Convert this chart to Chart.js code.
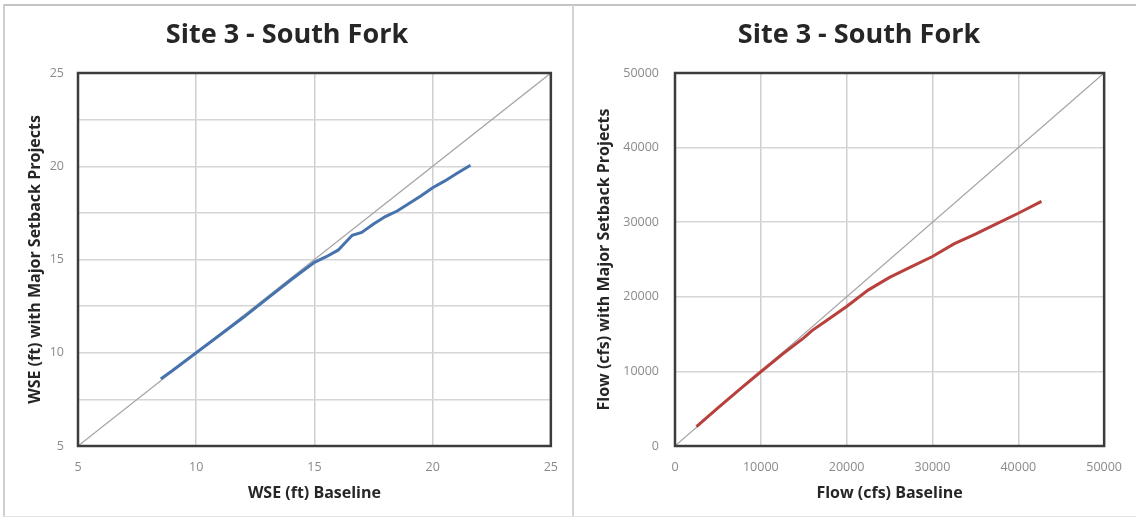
<!DOCTYPE html>
<html>
<head>
<meta charset="utf-8">
<script src="https://cdn.jsdelivr.net/npm/chart.js@4/dist/chart.umd.min.js"></script>
<style>
  html, body { margin: 0; padding: 0; background: #ffffff; }
  #stage { position: relative; width: 1136px; height: 519px; overflow: hidden; background: #fff; }
  .frame { position: absolute; left: 3px; top: 4px; width: 1140px; height: 510px;
           border-top: 2px solid #c4c4c4; border-left: 2px solid #d0d0d0; border-bottom: 1px solid #e4e4e4; }
  .sep { position: absolute; left: 572px; top: 5px; width: 2px; height: 511px; background: #d4d4d4; }
  canvas { position: absolute; top: 0; }
</style>
</head>
<body>
<div id="stage">
  <div class="frame"></div>
  <div class="sep"></div>
  <canvas id="left" width="572" height="519" style="left:0px"></canvas>
  <canvas id="right" width="562" height="519" style="left:574px"></canvas>
</div>
<script>
// ---- Data ----
const chartTitle = "Site 3 - South Fork";

// Left panel: water surface elevation (ft)
const wseBaseline = [8.5, 9.0, 10.0, 11.0, 12.0, 13.0, 14.0, 15.0, 15.5, 16.0, 16.3, 16.6, 17.0, 17.5, 18.0, 18.5, 19.0, 19.5, 20.0, 20.5, 21.0, 21.6];
const wseSetback  = [8.6, 9.05, 10.0, 10.95, 11.9, 12.9, 13.9, 14.85, 15.15, 15.5, 15.9, 16.3, 16.45, 16.9, 17.3, 17.6, 18.0, 18.4, 18.85, 19.2, 19.6, 20.05];
const wseDiagonal = [5, 25];
const wseXTicks = [5, 10, 15, 20, 25];
const wseYGrid  = [5, 7.5, 10, 12.5, 15, 17.5, 20, 22.5, 25];
const wseYLabels = [5, 10, 15, 20, 25];

// Right panel: flow (cfs)
const flowBaseline = [2500, 5000, 7500, 10000, 12500, 15000, 16000, 17500, 20000, 22500, 25000, 27500, 30000, 32500, 35000, 37500, 40000, 42700];
const flowSetback  = [2600, 5100, 7550, 9950, 12300, 14500, 15500, 16700, 18700, 20900, 22600, 24000, 25400, 27100, 28400, 29800, 31200, 32800];
const flowDiagonal = [0, 50000];
const flowTicks = [0, 10000, 20000, 30000, 40000, 50000];

const leftLabels = { x: "WSE (ft) Baseline", y: "WSE (ft) with Major Setback Projects" };
const rightLabels = { x: "Flow (cfs) Baseline", y: "Flow (cfs) with Major Setback Projects" };

// ---- Styling ----
const FONT = "'Open Sans', 'Liberation Sans', sans-serif";
const pairUp = (xs, ys) => xs.map((x, i) => ({ x: x, y: ys[i] }));

const plotFrame = {
  id: 'plotFrame',
  afterDatasetsDraw(chart) {
    const a = chart.chartArea, ctx = chart.ctx;
    ctx.save();
    ctx.strokeStyle = '#3c3c3c';
    ctx.lineWidth = 2.5;
    ctx.strokeRect(a.left, a.top, a.right - a.left, a.bottom - a.top);
    ctx.restore();
  }
};

function makeChart(id, cfg) {
  const fixTicks = (list) => (axis) => { axis.ticks = list.map(v => ({ value: v })); };
  new Chart(document.getElementById(id), {
    type: 'scatter',
    data: {
      datasets: [
        { data: pairUp(cfg.diag, cfg.diag), showLine: true, borderColor: '#a3a3a3', borderWidth: 1.2,
          pointRadius: 0, order: 2 },
        { data: pairUp(cfg.xs, cfg.ys), showLine: true, borderColor: cfg.color, borderWidth: 3,
          pointRadius: 0, tension: 0, order: 1 }
      ]
    },
    options: {
      responsive: false,
      animation: false,
      events: [],
      layout: { padding: { left: cfg.padLeft, right: cfg.padRight, top: 0, bottom: 0 } },
      plugins: {
        legend: { display: false },
        tooltip: { enabled: false },
        title: {
          display: true, text: chartTitle, color: '#262626',
          font: { family: FONT, size: 27, weight: 'bold', lineHeight: 1.2 },
          padding: { top: 19, bottom: 21.6 }
        }
      },
      scales: {
        x: {
          type: 'linear', min: cfg.diag[0], max: cfg.diag[1],
          afterBuildTicks: fixTicks(cfg.xTicks),
          afterFit: (s) => { s.height = 73; },
          grid: { color: '#cfcfcf', lineWidth: 1.5, drawTicks: false },
          border: { display: false },
          ticks: { color: '#8a8a8a', font: { family: FONT, size: 12.5 }, padding: 14, maxRotation: 0, autoSkip: false,
                   callback: (v) => String(v) },
          title: { display: true, text: cfg.labels.x, color: '#262626',
                   font: { family: FONT, size: 16, weight: 'bold', lineHeight: 1.2 }, padding: { top: 0, bottom: 16 } }
        },
        y: {
          type: 'linear', min: cfg.diag[0], max: cfg.diag[1],
          afterBuildTicks: fixTicks(cfg.yGrid),
          afterFit: (s) => { s.width = cfg.yWidth; },
          grid: { color: '#d6d6d6', lineWidth: 1.5, drawTicks: false },
          border: { display: false },
          ticks: { color: '#8a8a8a', font: { family: FONT, size: 12.5 }, padding: cfg.yTickPad, autoSkip: false,
                   callback: (v) => cfg.yLabels.includes(v) ? String(v) : '' },
          title: { display: true, text: cfg.labels.y, color: '#262626',
                   font: { family: FONT, size: 16, weight: 'bold', lineHeight: 1.2 }, padding: { top: cfg.yTitlePad, bottom: 0 } }
        }
      }
    },
    plugins: [plotFrame]
  });
}

makeChart('left', {
  xs: wseBaseline, ys: wseSetback, diag: wseDiagonal, color: '#4672ad',
  xTicks: wseXTicks, yGrid: wseYGrid, yLabels: wseYLabels, labels: leftLabels,
  padLeft: 22, yWidth: 56, yTickPad: 14, yTitlePad: 3.4, padRight: 20
});
makeChart('right', {
  xs: flowBaseline, ys: flowSetback, diag: flowDiagonal, color: '#b8403d',
  xTicks: flowTicks, yGrid: flowTicks, yLabels: flowTicks, labels: rightLabels,
  padLeft: 34, yWidth: 67, yTickPad: 16, yTitlePad: -13.6, padRight: 26
});
</script>
</body>
</html>
